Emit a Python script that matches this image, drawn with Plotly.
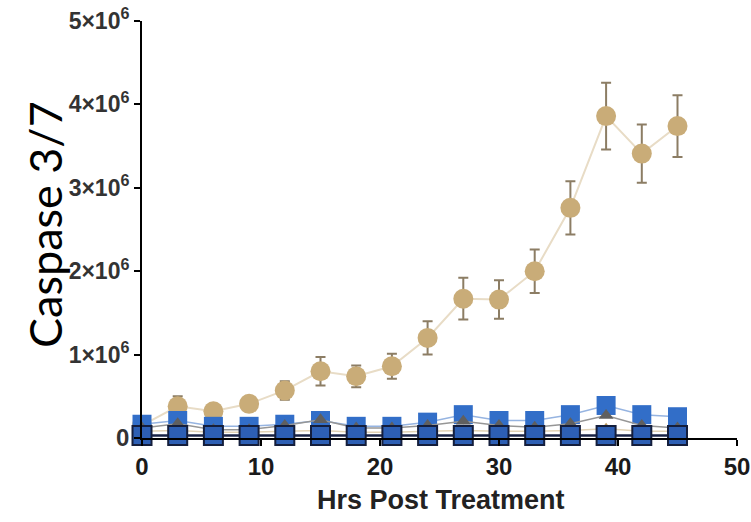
import plotly.graph_objects as go

hours = [0, 3, 6, 9, 12, 15, 18, 21, 24, 27, 30, 33, 36, 39, 42, 45]

# Tan circles (main responder) with SEM
tan_mean = [0.15e6, 0.38e6, 0.32e6, 0.41e6, 0.57e6, 0.80e6, 0.74e6, 0.86e6,
            1.20e6, 1.67e6, 1.66e6, 2.00e6, 2.76e6, 3.86e6, 3.41e6, 3.74e6]
tan_err = [0.05e6, 0.12e6, 0.08e6, 0.08e6, 0.11e6, 0.17e6, 0.13e6, 0.15e6,
           0.20e6, 0.25e6, 0.23e6, 0.26e6, 0.32e6, 0.40e6, 0.35e6, 0.37e6]

# Bright blue squares (upper low series)
blue_mean = [0.165e6, 0.21e6, 0.14e6, 0.14e6, 0.165e6, 0.21e6, 0.14e6, 0.14e6,
             0.19e6, 0.28e6, 0.21e6, 0.21e6, 0.28e6, 0.39e6, 0.28e6, 0.255e6]

# Dark grey triangles
grey_mean = [0.12e6, 0.17e6, 0.10e6, 0.10e6, 0.15e6, 0.22e6, 0.12e6, 0.12e6,
             0.15e6, 0.20e6, 0.15e6, 0.13e6, 0.17e6, 0.27e6, 0.15e6, 0.12e6]

# Small tan triangles
tantri_mean = [0.08e6, 0.09e6, 0.07e6, 0.07e6, 0.08e6, 0.09e6, 0.07e6, 0.07e6,
               0.08e6, 0.09e6, 0.08e6, 0.08e6, 0.09e6, 0.11e6, 0.08e6, 0.08e6]

# Navy-outlined squares near zero
navy_mean = [0.03e6] * 16

y_tickvals = [0, 1e6, 2e6, 3e6, 4e6, 5e6]
y_ticktext = ["<b><span style='font-size:24px'>0</span></b>"] + \
    [f"<b>{k}×10<sup>6</sup></b>" for k in range(1, 6)]
x_tickvals = [0, 10, 20, 30, 40, 50]

fig = go.Figure()

fig.add_trace(go.Scatter(
    x=hours, y=tan_mean, mode="lines+markers",
    line=dict(color="rgb(232,220,198)", width=2),
    marker=dict(symbol="circle", size=20, color="rgb(201,172,120)"),
    error_y=dict(type="data", array=tan_err, color="rgb(140,125,100)",
                 thickness=2, width=5),
    cliponaxis=False, showlegend=False))

fig.add_trace(go.Scatter(
    x=hours, y=tantri_mean, mode="lines+markers",
    line=dict(color="rgb(225,210,180)", width=1.5),
    marker=dict(symbol="triangle-up", size=12, color="rgb(185,150,90)"),
    cliponaxis=False, showlegend=False))

fig.add_trace(go.Scatter(
    x=hours, y=blue_mean, mode="lines+markers",
    line=dict(color="rgb(150,180,225)", width=1.5),
    marker=dict(symbol="square", size=19, color="rgb(50,110,200)"),
    cliponaxis=False, showlegend=False))

fig.add_trace(go.Scatter(
    x=hours, y=grey_mean, mode="lines+markers",
    line=dict(color="rgb(150,150,150)", width=1.5),
    marker=dict(symbol="triangle-up", size=13, color="rgb(95,95,95)"),
    cliponaxis=False, showlegend=False))

fig.add_trace(go.Scatter(
    x=hours, y=navy_mean, mode="lines+markers",
    line=dict(color="rgb(25,35,70)", width=2.5),
    marker=dict(symbol="square", size=19, color="rgb(45,95,180)",
                line=dict(color="rgb(20,30,60)", width=2)),
    cliponaxis=False, showlegend=False))

fig.update_layout(
    width=751, height=522,
    margin=dict(l=142, r=14, t=21, b=84, autoexpand=False),
    paper_bgcolor="white", plot_bgcolor="white",
    xaxis=dict(range=[0, 50], tickvals=x_tickvals,
               ticktext=[f"<b>{v}</b>" for v in x_tickvals],
               showline=True, linecolor="black", linewidth=2,
               ticks="outside", ticklen=6, tickwidth=2, tickcolor="black",
               showgrid=False, zeroline=False, automargin=False,
               tickfont=dict(family="Liberation Sans, Arial", size=24, color="#1a1a1a")),
    yaxis=dict(range=[0, 5e6], tickvals=y_tickvals, ticktext=y_ticktext,
               showline=True, linecolor="black", linewidth=2,
               ticks="outside", ticklen=6, tickwidth=2, tickcolor="black",
               showgrid=False, zeroline=False, automargin=False,
               tickfont=dict(family="Liberation Sans, Arial", size=23, color="#333")),
    annotations=[
        dict(text="<b>Hrs Post Treatment</b>", xref="paper", yref="paper",
             x=(441 - 142) / 595, y=(438 - 500) / 417,
             xanchor="center", yanchor="middle", showarrow=False,
             font=dict(family="Liberation Sans, Arial", size=27, color="#222")),
        dict(text="Caspase 3/7", xref="paper", yref="paper",
             x=(45 - 142) / 595, y=(438 - 225) / 417,
             xanchor="center", yanchor="middle", showarrow=False,
             textangle=-90,
             font=dict(family="Lato, Open Sans", size=45, color="black")),
    ],
)

fig.write_html("out.html")
